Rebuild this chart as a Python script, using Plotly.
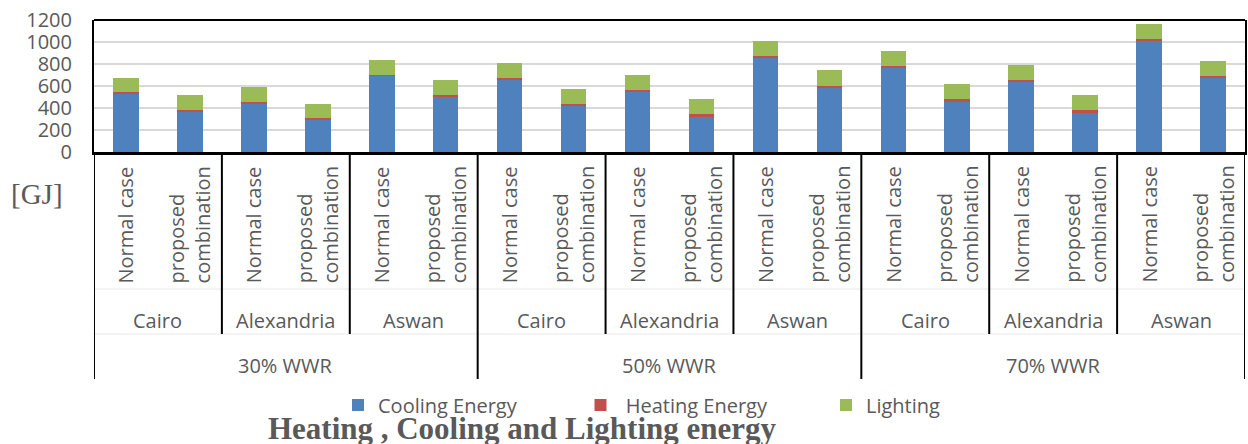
import plotly.graph_objects as go

# Category hierarchy: window-to-wall ratio > city > case
wwr_groups = ["30% WWR", "50% WWR", "70% WWR"]
cities = ["Cairo", "Alexandria", "Aswan"]
cases = ["Normal case", "proposed<br>combination"]

# Annual energy per case [GJ], ordered WWR -> city -> case
cooling = [535, 372, 445, 297, 692, 509,
           659, 422, 546, 327, 862, 589,
           768, 458, 634, 351, 1015, 674]
heating = [10, 12, 10, 15, 5, 8,
           12, 14, 16, 18, 13, 15,
           15, 21, 21, 28, 14, 15]
lighting = [131, 131, 134, 128, 135, 135,
            135, 134, 134, 141, 136, 137,
            137, 137, 134, 137, 135, 137]

y_ticks = [0, 200, 400, 600, 800, 1000, 1200]

W, H = 1248, 444
PLOT_L, PLOT_R, PLOT_T, PLOT_B = 94, 1245, 20, 152

GRAY = "#595959"
FONT = "Open Sans"


def px_x(p):
    return (p - PLOT_L) / (PLOT_R - PLOT_L)


def px_y(p):
    return (PLOT_B - p) / (PLOT_B - PLOT_T)


n_case = len(cases)
n_city = len(cities)
xpos = list(range(len(cooling)))

fig = go.Figure()
series = [
    ("Cooling Energy", cooling, "#4f81bd", "legend"),
    ("\u00a0Heating Energy", heating, "#c0504d", "legend2"),
    ("Lighting", lighting, "#9bbb59", "legend3"),
]
for name, vals, color, lg in series:
    fig.add_trace(go.Bar(
        x=xpos, y=vals, name=name, width=0.4,
        marker=dict(color=color, line=dict(width=0)),
        legend=lg, showlegend=True,
    ))

annotations = []
shapes = []

# case labels (rotated, reading upward), city labels, WWR labels
for g, wwr in enumerate(wwr_groups):
    for c, city in enumerate(cities):
        for k, case in enumerate(cases):
            i = (g * n_city + c) * n_case + k
            annotations.append(dict(
                x=i, xref="x", y=0, yref="paper", yshift=-(284 - PLOT_B),
                text=case, textangle=-90, align="left",
                xanchor="center", yanchor="bottom", showarrow=False,
                borderpad=0, font=dict(family=FONT, size=20, color=GRAY),
            ))
        cx = (g * n_city + c) * n_case + (n_case - 1) / 2
        annotations.append(dict(
            x=cx, xref="x", y=0, yref="paper", yshift=-(320 - PLOT_B),
            text=city, xanchor="center", yanchor="middle", showarrow=False,
            borderpad=0, font=dict(family=FONT, size=20, color=GRAY),
        ))
    gx = g * n_city * n_case + (n_city * n_case - 1) / 2
    annotations.append(dict(
        x=gx, xref="x", y=0, yref="paper", yshift=-(365 - PLOT_B),
        text=wwr, xanchor="center", yanchor="middle", showarrow=False,
        borderpad=0, font=dict(family=FONT, size=20, color=GRAY),
    ))

# unit label
annotations.append(dict(
    x=0, xref="paper", xshift=-(PLOT_L - 36.5), y=0, yref="paper",
    yshift=-(194 - PLOT_B), text="[GJ]", xanchor="center", yanchor="middle",
    showarrow=False, font=dict(family="Liberation Serif", size=29, color=GRAY),
))

# separator lines of the category table
n_total = len(cooling)
for b in range(0, n_total + 1, n_case):
    edge = b - 0.5
    is_group = b % (n_city * n_case) == 0
    depth = (379 if is_group else 334) - PLOT_B
    shapes.append(dict(
        type="line", xref="x", x0=edge, x1=edge,
        yref="paper", ysizemode="pixel", yanchor=0, y0=0, y1=-depth,
        line=dict(color="black", width=2),
    ))

# faint row dividers
for yy in (289, 334):
    shapes.append(dict(
        type="line", xref="paper", x0=0, x1=1,
        yref="paper", ysizemode="pixel", yanchor=0,
        y0=-(yy - PLOT_B), y1=-(yy - PLOT_B),
        line=dict(color="#e8e8e8", width=1), layer="below",
    ))

# top border of the plot frame
shapes.append(dict(
    type="line", xref="paper", x0=0, x1=1, yref="paper", y0=1, y1=1,
    line=dict(color="black", width=2),
))

legend_style = dict(
    orientation="h", yanchor="middle", xanchor="left", y=px_y(405),
    font=dict(family=FONT, size=20, color=GRAY),
    bgcolor="rgba(0,0,0,0)", borderwidth=0,
)

fig.update_layout(
    width=W, height=H,
    barmode="stack",
    showlegend=True,
    paper_bgcolor="white", plot_bgcolor="white",
    margin=dict(l=PLOT_L, r=W - PLOT_R, t=PLOT_T, b=H - PLOT_B, autoexpand=False),
    title=dict(
        text="<b>Heating , Cooling and Lighting energy</b>",
        font=dict(family="Liberation Serif", size=31, color=GRAY),
        xref="container", yref="container",
        x=522 / W, xanchor="center", y=1 - 428 / H, yanchor="middle",
    ),
    xaxis=dict(
        range=[-0.5, n_total - 0.5], showticklabels=False, ticks="",
        showgrid=False, zeroline=False,
        showline=True, linecolor="black", linewidth=3,
    ),
    yaxis=dict(
        range=[0, 1200], tickmode="array", tickvals=y_ticks,
        ticktext=[str(v) for v in y_ticks], ticks="",
        tickfont=dict(family=FONT, size=20, color=GRAY),
        ticklabelstandoff=16,
        showgrid=True, gridcolor="#d9d9d9", gridwidth=2, zeroline=False,
        showline=True, linecolor="black", linewidth=2, mirror=True,
    ),
    legend=dict(x=px_x(338), **legend_style),
    legend2=dict(x=px_x(580.5), **legend_style),
    legend3=dict(x=px_x(826), **legend_style),
    annotations=annotations,
    shapes=shapes,
)

fig.write_html("out.html")
